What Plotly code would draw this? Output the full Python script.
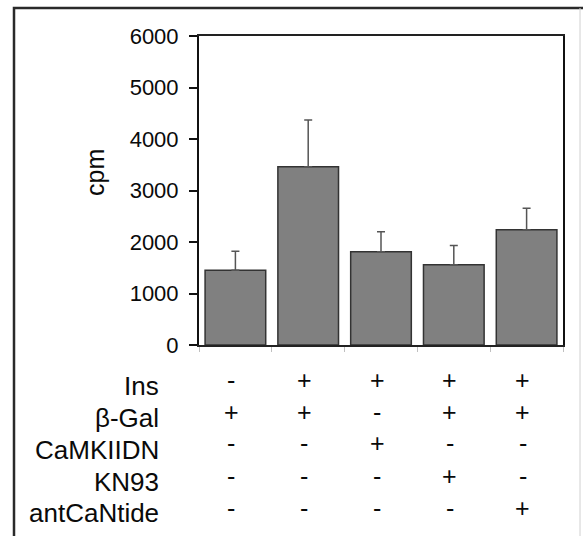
import plotly.graph_objects as go

categories = ["Ctrl", "Ins", "Ins+CaMKIIDN", "Ins+KN93", "Ins+antCaNtide"]
cpm = [1450, 3460, 1810, 1560, 2240]
err_top = [1820, 4370, 2200, 1930, 2655]
row_labels = ["Ins", "β-Gal", "CaMKIIDN", "KN93", "antCaNtide"]
table = [
    ["-", "+", "+", "+", "+"],
    ["+", "+", "-", "+", "+"],
    ["-", "-", "+", "-", "-"],
    ["-", "-", "-", "+", "-"],
    ["-", "-", "-", "-", "+"],
]
yticks = [0, 1000, 2000, 3000, 4000, 5000, 6000]

W, H = 583, 536
L, R, T, B = 199, 563, 36, 345  # plot area in px


def px2py(py):
    return (B - py) / (B - T)


def px2px(px):
    return (px - L) / (R - L)


FONT = "Liberation Sans, Arial, sans-serif"
TXT = "#0a0a0a"

fig = go.Figure()
fig.add_trace(go.Bar(
    x=categories, y=cpm,
    marker=dict(color="#808080", line=dict(color="#333333", width=1.5)),
    error_y=dict(type="data", symmetric=False,
                 array=[e - v for e, v in zip(err_top, cpm)],
                 arrayminus=[0] * len(cpm),
                 color="#555555", thickness=1.5, width=4),
))

annotations = []
label_y = [385.5, 417.5, 449.5, 481.5, 513]
sym_y = [380, 411.5, 443, 475.5, 507.5]
for r, lab in enumerate(row_labels):
    annotations.append(dict(text=lab, xref="paper", yref="paper",
                            x=px2px(161), y=px2py(label_y[r]),
                            xanchor="right", yanchor="middle", showarrow=False,
                            font=dict(family=FONT, size=26, color=TXT)))
    for c, cat in enumerate(categories):
        annotations.append(dict(text=table[r][c], xref="x", yref="paper",
                                x=cat, y=px2py(sym_y[r]), xshift=-4,
                                xanchor="center", yanchor="middle", showarrow=False,
                                font=dict(family=FONT, size=25, color=TXT)))

annotations.append(dict(text="cpm", xref="paper", yref="paper",
                        x=px2px(95), y=px2py(173), textangle=-90,
                        xanchor="center", yanchor="middle", showarrow=False,
                        font=dict(family=FONT, size=25, color=TXT)))

shapes = [
    dict(type="rect", xref="paper", yref="paper",
         x0=px2px(14), x1=px2px(700), y0=px2py(700), y1=px2py(8),
         line=dict(color="#2a2a2a", width=2.5), layer="below"),
    dict(type="line", xref="paper", yref="paper",
         x0=px2px(580), x1=px2px(580), y0=px2py(8), y1=px2py(536),
         line=dict(color="#d0d0d0", width=1)),
]

fig.update_layout(
    width=W, height=H,
    margin=dict(l=L, r=W - R, t=T, b=H - B, pad=0),
    paper_bgcolor="white", plot_bgcolor="white",
    showlegend=False, bargap=0.167,
    font=dict(family=FONT, size=22, color=TXT),
    annotations=annotations, shapes=shapes,
    xaxis=dict(showticklabels=False, showline=True, linecolor="#222", linewidth=2,
               mirror=True, ticks="outside", tickson="boundaries", ticklen=5,
               tickcolor="#c0c0c0", tickwidth=1, showgrid=False, zeroline=False,
               fixedrange=True),
    yaxis=dict(range=[0, 6000], tickvals=yticks, showline=True, linecolor="#111",
               linewidth=2, mirror=True, ticks="outside", ticklen=8, tickwidth=2,
               tickcolor="#111", showgrid=False, zeroline=False,
               ticklabelstandoff=6,
               tickfont=dict(family=FONT, size=22, color=TXT)),
)

fig.write_html("out.html", config={"displayModeBar": False},
               post_script="document.body.style.margin='0';document.body.style.overflow='hidden';")
